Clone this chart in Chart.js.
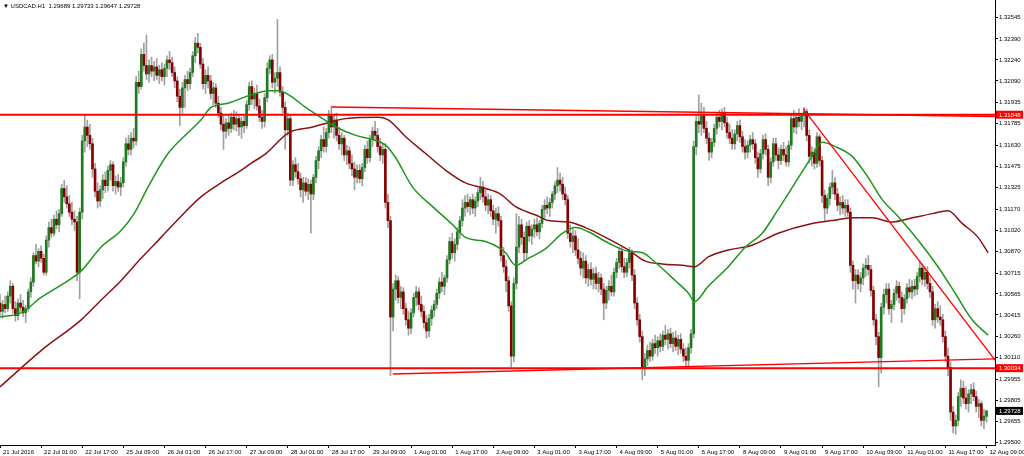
<!DOCTYPE html>
<html lang="en">
<head>
<meta charset="UTF-8">
<title>USDCAD.H1</title>
<script src="https://cdn.jsdelivr.net/npm/chart.js"></script>
<style>
  body { margin: 0; background: #ffffff; }
  #wrap { width: 1024px; height: 456px; }
</style>
</head>
<body>
<div id="wrap"><canvas id="chart"></canvas></div>
<script>
// header text and axis labels
const symbolTitle = '\u25BC USDCAD.H1  1.29689 1.29733 1.29647 1.29728';
const timeLabels = ['21 Jul 2016', '22 Jul 01:00', '22 Jul 17:00', '25 Jul 09:00', '26 Jul 01:00', '26 Jul 17:00',
  '27 Jul 09:00', '28 Jul 01:00', '28 Jul 17:00', '29 Jul 09:00', '1 Aug 01:00', '1 Aug 17:00', '2 Aug 09:00',
  '3 Aug 01:00', '3 Aug 17:00', '4 Aug 09:00', '5 Aug 01:00', '5 Aug 17:00', '8 Aug 09:00', '9 Aug 01:00',
  '9 Aug 17:00', '10 Aug 09:00', '11 Aug 01:00', '11 Aug 17:00', '12 Aug 09:00'];
const barsPerLabel = 16;
const priceTicks = [1.29500, 1.29655, 1.29805, 1.29955, 1.30110, 1.30260, 1.30415, 1.30565, 1.30715, 1.30870,
  1.31020, 1.31170, 1.31325, 1.31475, 1.31630, 1.31785, 1.31935, 1.32090, 1.32240, 1.32390, 1.32545];

// hourly candles: [open, high, low, close]
const ohlc = [
  // 21 Jul 09:00
  [1.3050,1.3056,1.3041,1.3044],[1.3044,1.3052,1.3039,1.3049],[1.3049,1.3055,1.3043,1.3046],[1.3046,1.3058,1.3044,1.3055],
  [1.3055,1.3066,1.3050,1.3062],[1.3062,1.3064,1.3043,1.3046],[1.3046,1.3051,1.3037,1.3041],[1.3041,1.3053,1.3038,1.3050],
  [1.3050,1.3056,1.3044,1.3047],[1.3047,1.3052,1.3040,1.3043],[1.3043,1.3048,1.3036,1.3046],[1.3046,1.3060,1.3044,1.3058],
  [1.3058,1.3068,1.3054,1.3065],[1.3065,1.3086,1.3062,1.3084],[1.3084,1.3092,1.3078,1.3080],[1.3080,1.3089,1.3076,1.3087],
  // 22 Jul 01:00
  [1.3087,1.3091,1.3079,1.3082],[1.3082,1.3085,1.3070,1.3072],[1.3072,1.3098,1.3070,1.3095],[1.3095,1.3108,1.3090,1.3104],
  [1.3104,1.3110,1.3097,1.3100],[1.3100,1.3113,1.3098,1.3110],[1.3110,1.3116,1.3103,1.3106],[1.3106,1.3117,1.3101,1.3114],
  [1.3114,1.3135,1.3112,1.3132],[1.3132,1.3138,1.3122,1.3126],[1.3126,1.3134,1.3118,1.3121],[1.3121,1.3127,1.3112,1.3115],
  [1.3115,1.3122,1.3106,1.3110],[1.3110,1.3116,1.3102,1.3108],[1.3108,1.3112,1.3066,1.3072],[1.3072,1.3118,1.3053,1.3115],
  // 22 Jul 17:00
  [1.3115,1.3170,1.3110,1.3166],[1.3166,1.3185,1.3158,1.3176],[1.3176,1.3181,1.3162,1.3170],[1.3170,1.3178,1.3160,1.3164],
  [1.3164,1.3168,1.3140,1.3146],[1.3146,1.3150,1.3126,1.3130],[1.3130,1.3136,1.3118,1.3123],[1.3123,1.3134,1.3119,1.3131],
  [1.3131,1.3142,1.3125,1.3138],[1.3138,1.3144,1.3129,1.3134],[1.3134,1.3148,1.3130,1.3145],[1.3145,1.3152,1.3138,1.3149],
  [1.3149,1.3151,1.3130,1.3134],[1.3134,1.3141,1.3128,1.3137],[1.3137,1.3142,1.3130,1.3133],[1.3133,1.3140,1.3127,1.3136],
  // 25 Jul 09:00
  [1.3136,1.3154,1.3133,1.3151],[1.3151,1.3168,1.3148,1.3164],[1.3164,1.3170,1.3156,1.3160],[1.3160,1.3172,1.3156,1.3168],
  [1.3168,1.3175,1.3161,1.3166],[1.3166,1.3212,1.3163,1.3208],[1.3208,1.3216,1.3200,1.3205],[1.3205,1.3232,1.3203,1.3228],
  [1.3228,1.3236,1.3216,1.3220],[1.3220,1.3242,1.3210,1.3214],[1.3214,1.3224,1.3208,1.3220],[1.3220,1.3226,1.3212,1.3216],
  [1.3216,1.3223,1.3209,1.3219],[1.3219,1.3225,1.3210,1.3213],[1.3213,1.3220,1.3207,1.3217],[1.3217,1.3222,1.3209,1.3212],
  // 26 Jul 01:00
  [1.3212,1.3221,1.3206,1.3218],[1.3218,1.3227,1.3212,1.3224],[1.3224,1.3230,1.3217,1.3222],[1.3222,1.3226,1.3212,1.3215],
  [1.3215,1.3219,1.3204,1.3209],[1.3209,1.3212,1.3194,1.3198],[1.3198,1.3203,1.3177,1.3190],[1.3190,1.3208,1.3186,1.3204],
  [1.3204,1.3213,1.3190,1.3210],[1.3210,1.3216,1.3202,1.3207],[1.3207,1.3218,1.3203,1.3215],[1.3215,1.3230,1.3212,1.3227],
  [1.3227,1.3240,1.3222,1.3236],[1.3236,1.3243,1.3229,1.3233],[1.3233,1.3236,1.3218,1.3221],[1.3221,1.3225,1.3203,1.3207],
  // 26 Jul 17:00
  [1.3207,1.3217,1.3200,1.3213],[1.3213,1.3219,1.3204,1.3209],[1.3209,1.3213,1.3196,1.3200],[1.3200,1.3208,1.3192,1.3204],
  [1.3204,1.3207,1.3190,1.3193],[1.3193,1.3198,1.3183,1.3186],[1.3186,1.3190,1.3174,1.3178],[1.3178,1.3184,1.3160,1.3173],
  [1.3173,1.3182,1.3168,1.3179],[1.3179,1.3185,1.3170,1.3175],[1.3175,1.3186,1.3172,1.3183],[1.3183,1.3188,1.3174,1.3178],
  [1.3178,1.3187,1.3173,1.3182],[1.3182,1.3185,1.3170,1.3176],[1.3176,1.3183,1.3168,1.3180],[1.3180,1.3184,1.3172,1.3177],
  // 27 Jul 09:00
  [1.3177,1.3195,1.3175,1.3192],[1.3192,1.3208,1.3188,1.3205],[1.3205,1.3209,1.3192,1.3196],[1.3196,1.3204,1.3189,1.3200],
  [1.3200,1.3206,1.3188,1.3191],[1.3191,1.3196,1.3180,1.3183],[1.3183,1.3188,1.3175,1.3180],[1.3180,1.3200,1.3176,1.3197],
  [1.3197,1.3222,1.3194,1.3218],[1.3218,1.3227,1.3214,1.3224],[1.3224,1.3228,1.3204,1.3208],[1.3208,1.3215,1.3200,1.3211],
  [1.3211,1.3253,1.3205,1.3215],[1.3215,1.3219,1.3198,1.3201],[1.3201,1.3205,1.3186,1.3190],[1.3190,1.3194,1.3160,1.3174],
  // 28 Jul 01:00
  [1.3174,1.3186,1.3170,1.3182],[1.3182,1.3185,1.3134,1.3138],[1.3138,1.3152,1.3134,1.3149],[1.3149,1.3154,1.3140,1.3144],
  [1.3144,1.3150,1.3135,1.3139],[1.3139,1.3143,1.3126,1.3131],[1.3131,1.3140,1.3122,1.3136],[1.3136,1.3140,1.3127,1.3130],
  [1.3130,1.3139,1.3124,1.3135],[1.3135,1.3138,1.3100,1.3128],[1.3128,1.3142,1.3124,1.3140],[1.3140,1.3155,1.3136,1.3152],
  [1.3152,1.3162,1.3146,1.3159],[1.3159,1.3170,1.3154,1.3167],[1.3167,1.3176,1.3158,1.3162],[1.3162,1.3175,1.3158,1.3172],
  // 28 Jul 17:00
  [1.3172,1.3188,1.3168,1.3184],[1.3184,1.3191,1.3172,1.3176],[1.3176,1.3185,1.3168,1.3181],[1.3181,1.3186,1.3166,1.3170],
  [1.3170,1.3176,1.3160,1.3164],[1.3164,1.3172,1.3156,1.3168],[1.3168,1.3170,1.3152,1.3156],[1.3156,1.3163,1.3149,1.3159],
  [1.3159,1.3162,1.3146,1.3150],[1.3150,1.3156,1.3141,1.3146],[1.3146,1.3151,1.3131,1.3140],[1.3140,1.3149,1.3136,1.3145],
  [1.3145,1.3149,1.3136,1.3139],[1.3139,1.3150,1.3134,1.3147],[1.3147,1.3163,1.3144,1.3160],[1.3160,1.3166,1.3150,1.3154],
  // 29 Jul 09:00
  [1.3154,1.3170,1.3151,1.3167],[1.3167,1.3176,1.3162,1.3173],[1.3173,1.3180,1.3166,1.3170],[1.3170,1.3175,1.3158,1.3162],
  [1.3162,1.3168,1.3152,1.3156],[1.3156,1.3164,1.3150,1.3160],[1.3160,1.3164,1.3118,1.3122],[1.3122,1.3128,1.3104,1.3109],
  [1.3109,1.3112,1.2998,1.3040],[1.3040,1.3064,1.3030,1.3060],[1.3060,1.3070,1.3052,1.3066],[1.3066,1.3069,1.3050,1.3054],
  [1.3054,1.3062,1.3046,1.3058],[1.3058,1.3061,1.3042,1.3046],[1.3046,1.3050,1.3034,1.3038],[1.3038,1.3044,1.3027,1.3032],
  // 1 Aug 01:00
  [1.3032,1.3046,1.3028,1.3043],[1.3043,1.3057,1.3040,1.3054],[1.3054,1.3062,1.3048,1.3058],[1.3058,1.3061,1.3045,1.3049],
  [1.3049,1.3055,1.3040,1.3044],[1.3044,1.3048,1.3032,1.3036],[1.3036,1.3041,1.3025,1.3030],[1.3030,1.3042,1.3026,1.3039],
  [1.3039,1.3048,1.3034,1.3045],[1.3045,1.3052,1.3040,1.3049],[1.3049,1.3060,1.3046,1.3057],[1.3057,1.3068,1.3053,1.3065],
  [1.3065,1.3072,1.3058,1.3062],[1.3062,1.3070,1.3056,1.3068],[1.3068,1.3084,1.3065,1.3081],[1.3081,1.3097,1.3078,1.3094],
  // 1 Aug 17:00
  [1.3094,1.3100,1.3082,1.3086],[1.3086,1.3096,1.3080,1.3092],[1.3092,1.3104,1.3088,1.3101],[1.3101,1.3112,1.3096,1.3109],
  [1.3109,1.3124,1.3105,1.3118],[1.3118,1.3127,1.3112,1.3122],[1.3122,1.3128,1.3115,1.3119],[1.3119,1.3126,1.3113,1.3124],
  [1.3124,1.3128,1.3114,1.3118],[1.3118,1.3126,1.3112,1.3123],[1.3123,1.3132,1.3119,1.3129],[1.3129,1.3140,1.3124,1.3133],
  [1.3133,1.3137,1.3122,1.3126],[1.3126,1.3131,1.3116,1.3120],[1.3120,1.3128,1.3114,1.3124],[1.3124,1.3127,1.3112,1.3116],
  // 2 Aug 09:00
  [1.3116,1.3120,1.3106,1.3110],[1.3110,1.3118,1.3100,1.3114],[1.3114,1.3119,1.3105,1.3109],[1.3109,1.3112,1.3080,1.3084],
  [1.3084,1.3090,1.3072,1.3076],[1.3076,1.3081,1.3058,1.3066],[1.3066,1.3069,1.3044,1.3048],[1.3048,1.3051,1.3004,1.3012],
  [1.3012,1.3068,1.3008,1.3064],[1.3064,1.3114,1.3060,1.3090],[1.3090,1.3112,1.3086,1.3106],[1.3106,1.3110,1.3092,1.3097],
  [1.3097,1.3101,1.3080,1.3086],[1.3086,1.3108,1.3082,1.3105],[1.3105,1.3109,1.3094,1.3098],[1.3098,1.3106,1.3092,1.3103],
  // 3 Aug 01:00
  [1.3103,1.3110,1.3097,1.3106],[1.3106,1.3111,1.3098,1.3101],[1.3101,1.3109,1.3096,1.3107],[1.3107,1.3120,1.3104,1.3117],
  [1.3117,1.3124,1.3111,1.3120],[1.3120,1.3126,1.3114,1.3118],[1.3118,1.3125,1.3112,1.3122],[1.3122,1.3130,1.3118,1.3128],
  [1.3128,1.3137,1.3124,1.3134],[1.3134,1.3147,1.3129,1.3138],[1.3138,1.3143,1.3130,1.3135],[1.3135,1.3140,1.3124,1.3128],
  [1.3128,1.3133,1.3120,1.3124],[1.3124,1.3127,1.3096,1.3100],[1.3100,1.3106,1.3090,1.3094],[1.3094,1.3103,1.3086,1.3098],
  // 3 Aug 17:00
  [1.3098,1.3102,1.3084,1.3088],[1.3088,1.3096,1.3078,1.3082],[1.3082,1.3087,1.3070,1.3075],[1.3075,1.3086,1.3068,1.3080],
  [1.3080,1.3084,1.3064,1.3068],[1.3068,1.3078,1.3062,1.3074],[1.3074,1.3079,1.3063,1.3067],[1.3067,1.3075,1.3060,1.3071],
  [1.3071,1.3076,1.3060,1.3064],[1.3064,1.3072,1.3058,1.3068],[1.3068,1.3071,1.3056,1.3060],[1.3060,1.3064,1.3038,1.3050],
  [1.3050,1.3062,1.3046,1.3059],[1.3059,1.3066,1.3052,1.3062],[1.3062,1.3070,1.3055,1.3058],[1.3058,1.3075,1.3055,1.3072],
  // 4 Aug 09:00
  [1.3072,1.3082,1.3068,1.3079],[1.3079,1.3090,1.3075,1.3087],[1.3087,1.3090,1.3072,1.3076],[1.3076,1.3082,1.3068,1.3072],
  [1.3072,1.3082,1.3069,1.3079],[1.3079,1.3090,1.3075,1.3086],[1.3086,1.3088,1.3066,1.3070],[1.3070,1.3074,1.3046,1.3050],
  [1.3050,1.3054,1.3034,1.3038],[1.3038,1.3042,1.3022,1.3026],[1.3026,1.3030,1.2995,1.3004],[1.3004,1.3014,1.2998,1.3010],
  [1.3010,1.3020,1.3005,1.3016],[1.3016,1.3022,1.3008,1.3012],[1.3012,1.3024,1.3009,1.3021],[1.3021,1.3027,1.3014,1.3018],
  // 5 Aug 01:00
  [1.3018,1.3026,1.3012,1.3023],[1.3023,1.3028,1.3015,1.3019],[1.3019,1.3030,1.3016,1.3027],[1.3027,1.3034,1.3020,1.3024],
  [1.3024,1.3031,1.3017,1.3028],[1.3028,1.3032,1.3018,1.3021],[1.3021,1.3029,1.3015,1.3025],[1.3025,1.3030,1.3016,1.3019],
  [1.3019,1.3027,1.3013,1.3024],[1.3024,1.3028,1.3014,1.3017],[1.3017,1.3021,1.3008,1.3012],[1.3012,1.3018,1.3004,1.3009],
  [1.3009,1.3021,1.3005,1.3018],[1.3018,1.3031,1.3014,1.3028],[1.3028,1.3166,1.3025,1.3162],[1.3162,1.3185,1.3156,1.3180],
  // 5 Aug 17:00
  [1.3180,1.3199,1.3172,1.3178],[1.3178,1.3193,1.3170,1.3184],[1.3184,1.3190,1.3172,1.3175],[1.3175,1.3180,1.3164,1.3168],
  [1.3168,1.3172,1.3152,1.3158],[1.3158,1.3168,1.3154,1.3165],[1.3165,1.3178,1.3162,1.3175],[1.3175,1.3186,1.3171,1.3183],
  [1.3183,1.3188,1.3176,1.3180],[1.3180,1.3189,1.3174,1.3186],[1.3186,1.3190,1.3176,1.3179],[1.3179,1.3183,1.3168,1.3172],
  [1.3172,1.3178,1.3164,1.3168],[1.3168,1.3174,1.3160,1.3164],[1.3164,1.3174,1.3160,1.3171],[1.3171,1.3180,1.3166,1.3177],
  // 8 Aug 09:00
  [1.3177,1.3181,1.3165,1.3169],[1.3169,1.3173,1.3158,1.3162],[1.3162,1.3167,1.3153,1.3158],[1.3158,1.3166,1.3154,1.3163],
  [1.3163,1.3170,1.3158,1.3167],[1.3167,1.3172,1.3160,1.3164],[1.3164,1.3167,1.3150,1.3154],[1.3154,1.3158,1.3140,1.3146],
  [1.3146,1.3160,1.3143,1.3157],[1.3157,1.3170,1.3153,1.3167],[1.3167,1.3171,1.3156,1.3160],[1.3160,1.3163,1.3134,1.3140],
  [1.3140,1.3154,1.3136,1.3151],[1.3151,1.3168,1.3148,1.3164],[1.3164,1.3168,1.3152,1.3156],[1.3156,1.3161,1.3146,1.3152],
  // 9 Aug 01:00
  [1.3152,1.3163,1.3149,1.3160],[1.3160,1.3165,1.3152,1.3156],[1.3156,1.3162,1.3148,1.3151],[1.3151,1.3166,1.3148,1.3163],
  [1.3163,1.3185,1.3160,1.3182],[1.3182,1.3188,1.3172,1.3176],[1.3176,1.3186,1.3171,1.3183],[1.3183,1.3189,1.3176,1.3180],
  [1.3180,1.3186,1.3174,1.3184],[1.3184,1.3190,1.3176,1.3187],[1.3187,1.3189,1.3166,1.3170],[1.3170,1.3174,1.3150,1.3155],
  [1.3155,1.3162,1.3148,1.3158],[1.3158,1.3161,1.3146,1.3150],[1.3150,1.3172,1.3147,1.3169],[1.3169,1.3171,1.3148,1.3152],
  // 9 Aug 17:00
  [1.3152,1.3155,1.3122,1.3127],[1.3127,1.3131,1.3109,1.3118],[1.3118,1.3128,1.3114,1.3125],[1.3125,1.3136,1.3120,1.3133],
  [1.3133,1.3145,1.3128,1.3136],[1.3136,1.3140,1.3124,1.3128],[1.3128,1.3132,1.3116,1.3120],[1.3120,1.3126,1.3113,1.3122],
  [1.3122,1.3127,1.3114,1.3118],[1.3118,1.3124,1.3112,1.3120],[1.3120,1.3124,1.3112,1.3115],[1.3115,1.3118,1.3072,1.3077],
  [1.3077,1.3080,1.3060,1.3066],[1.3066,1.3074,1.3050,1.3070],[1.3070,1.3074,1.3060,1.3064],[1.3064,1.3072,1.3058,1.3068],
  // 10 Aug 09:00
  [1.3068,1.3078,1.3063,1.3075],[1.3075,1.3082,1.3069,1.3077],[1.3077,1.3084,1.3070,1.3074],[1.3074,1.3077,1.3055,1.3059],
  [1.3059,1.3062,1.3034,1.3038],[1.3038,1.3042,1.3020,1.3026],[1.3026,1.3029,1.2990,1.3011],[1.3011,1.3050,1.3000,1.3047],
  [1.3047,1.3060,1.3042,1.3056],[1.3056,1.3064,1.3050,1.3060],[1.3060,1.3064,1.3042,1.3046],[1.3046,1.3052,1.3036,1.3049],
  [1.3049,1.3060,1.3045,1.3057],[1.3057,1.3066,1.3052,1.3062],[1.3062,1.3065,1.3050,1.3054],[1.3054,1.3058,1.3036,1.3046],
  // 11 Aug 01:00
  [1.3046,1.3056,1.3042,1.3053],[1.3053,1.3064,1.3050,1.3061],[1.3061,1.3067,1.3054,1.3058],[1.3058,1.3066,1.3053,1.3062],
  [1.3062,1.3067,1.3055,1.3060],[1.3060,1.3072,1.3056,1.3069],[1.3069,1.3080,1.3065,1.3075],[1.3075,1.3078,1.3063,1.3067],
  [1.3067,1.3076,1.3062,1.3072],[1.3072,1.3076,1.3060,1.3064],[1.3064,1.3068,1.3054,1.3058],[1.3058,1.3062,1.3034,1.3038],
  [1.3038,1.3049,1.3032,1.3046],[1.3046,1.3051,1.3036,1.3040],[1.3040,1.3048,1.3034,1.3038],[1.3038,1.3042,1.3022,1.3026],
  // 11 Aug 17:00
  [1.3026,1.3030,1.3008,1.3012],[1.3012,1.3018,1.2998,1.3004],[1.3004,1.3008,1.2966,1.2972],[1.2972,1.2976,1.2957,1.2962],
  [1.2962,1.2970,1.2956,1.2966],[1.2966,1.2986,1.2962,1.2983],[1.2983,1.2995,1.2976,1.2989],[1.2989,1.2994,1.2978,1.2982],
  [1.2982,1.2990,1.2974,1.2978],[1.2978,1.2988,1.2972,1.2985],[1.2985,1.2992,1.2978,1.2988],[1.2988,1.2993,1.2980,1.2983],
  [1.2983,1.2987,1.2972,1.2976],[1.2976,1.2981,1.2968,1.2978],[1.2978,1.2980,1.2962,1.2966],[1.2966,1.2974,1.2960,1.2969],
  // 12 Aug 09:00
  [1.29689,1.29733,1.29647,1.29728]
];

// moving averages: [bar index, price]
const maFast = [[0,1.3040],[8.2,1.3043],[16,1.3054],[26.5,1.3066],[31.6,1.3073],[39.3,1.3090],[47.1,1.3102],
  [52.2,1.3114],[57.6,1.3133],[65.4,1.3157],[73.2,1.3172],[78.2,1.3181],[82.1,1.3190],[88.7,1.3193],[97.7,1.3199],
  [104.7,1.3202],[108.5,1.3202],[112.4,1.3199],[119,1.3190],[125.6,1.3182],[130.7,1.3176],[138.5,1.3170],
  [145.1,1.3167],[150.1,1.3163],[154,1.3154],[160.6,1.3133],[168.4,1.3119],[176.2,1.3106],[181.2,1.3097],
  [189,1.3094],[194.8,1.3089],[196.8,1.3086],[200.7,1.3077],[205.7,1.3082],[212.4,1.3089],[219,1.3100],
  [224,1.3104],[229,1.3101],[236.8,1.3093],[244.6,1.3087],[250.1,1.3086],[255.1,1.3079],[262.9,1.3066],
  [268,1.3057],[270.3,1.3051],[275.7,1.3062],[283.5,1.3076],[290.1,1.3090],[296.7,1.3100],[302.9,1.3117],
  [309.5,1.3136],[316.1,1.3155],[320,1.3165],[325.1,1.3162],[331.7,1.3155],[337.9,1.3140],[343.4,1.3124],
  [349.6,1.3112],[357.4,1.3095],[365.1,1.3076],[371.8,1.3057],[378.4,1.3038],[384.6,1.3027]];
const maSlow = [[0,1.2990],[16,1.3016],[31.6,1.3038],[39.3,1.3052],[47.1,1.3066],[54.9,1.3082],[62.7,1.3097],
  [70.4,1.3112],[78.2,1.3126],[86,1.3136],[93.8,1.3145],[97.7,1.3150],[103.5,1.3157],[112.4,1.3172],
  [121.8,1.3176],[129.5,1.3180],[134.6,1.3182],[147.4,1.3183],[151.3,1.3181],[157.9,1.3169],[165.7,1.3157],
  [173.5,1.3145],[181.2,1.3136],[189,1.3132],[194.8,1.3128],[200.7,1.3119],[208.5,1.3113],[213.5,1.3109],
  [221.3,1.3108],[227.9,1.3104],[235.7,1.3097],[244.6,1.3088],[251.2,1.3080],[257.8,1.3078],[265.6,1.3077],
  [270.3,1.3076],[275.7,1.3083],[283.5,1.3088],[292.1,1.3091],[302.9,1.3100],[316.1,1.3107],[323.9,1.3109],
  [331.7,1.3111],[339.5,1.3111],[347.3,1.3108],[355.1,1.3111],[362.9,1.3114],[369,1.3116],[374.5,1.3107],
  [380.7,1.3097],[384.6,1.3086]];

// drawn objects
const xEnd = 387.3;
const levels = [1.31848, 1.30034];
const trendLines = [
  [[129.1, 1.31903], [xEnd, 1.31835]],
  [[312.7, 1.31889], [xEnd, 1.30091]],
  [[152.9, 1.29992], [xEnd, 1.30100]]
];
const priceTags = [[1.31848, '#ff0000'], [1.30034, '#ff0000'], [1.29728, '#000000']];

const bullColor = '#1f7a1f';
const bearColor = '#870000';
const wickColor = '#a0a0a0';
const font = { family: '"Liberation Sans", Arial, sans-serif', size: 6 };

const bodyColors = ohlc.map(b => b[3] >= b[0] ? bullColor : bearColor);

const datasets = [];
trendLines.forEach(seg => {
  datasets.push({
    type: 'line', order: 1, data: seg.map(p => ({ x: p[0], y: p[1] })),
    borderColor: '#ff0000', borderWidth: 1.3, pointRadius: 0
  });
});
levels.forEach(lv => {
  datasets.push({
    type: 'line', order: 1, data: [{ x: 0, y: lv }, { x: xEnd, y: lv }],
    borderColor: '#ff0000', borderWidth: 2, pointRadius: 0
  });
});
datasets.push({
  type: 'line', order: 2, data: maFast.map(p => ({ x: p[0], y: p[1] })),
  borderColor: '#1e961e', borderWidth: 1.5, pointRadius: 0, cubicInterpolationMode: 'monotone'
});
datasets.push({
  type: 'line', order: 2, data: maSlow.map(p => ({ x: p[0], y: p[1] })),
  borderColor: '#8b1212', borderWidth: 1.5, pointRadius: 0, cubicInterpolationMode: 'monotone'
});
datasets.push({
  type: 'bar', order: 4, data: ohlc.map((b, i) => ({ x: i, y: [b[0], b[3]] })),
  backgroundColor: bodyColors, barThickness: 2, grouped: false, borderWidth: 0, minBarLength: 1
});
datasets.push({
  type: 'bar', order: 5, data: ohlc.map((b, i) => ({ x: i, y: [b[2], b[1]] })),
  backgroundColor: wickColor, barThickness: 1, grouped: false, borderWidth: 0, minBarLength: 1
});

const overlay = {
  id: 'overlay',
  afterDraw(chart) {
    const { ctx, chartArea, scales } = chart;
    ctx.save();
    ctx.font = '6px "Liberation Sans", Arial, sans-serif';
    ctx.textBaseline = 'middle';
    ctx.textAlign = 'left';
    priceTags.forEach(([price, bg]) => {
      const py = scales.y.getPixelForValue(price);
      ctx.fillStyle = bg;
      ctx.fillRect(chartArea.right + 1, py - 4, 27, 8);
      ctx.fillStyle = '#ffffff';
      ctx.fillText(price.toFixed(5), chartArea.right + 4, py + 0.5);
    });
    ctx.fillStyle = '#000000';
    ctx.fillText(symbolTitle, 3, 6);
    ctx.restore();
  }
};

new Chart(document.getElementById('chart'), {
  type: 'bar',
  data: { datasets },
  plugins: [overlay],
  options: {
    responsive: true,
    maintainAspectRatio: false,
    animation: false,
    layout: { padding: 0 },
    plugins: { legend: { display: false }, tooltip: { enabled: false } },
    scales: {
      x: {
        type: 'linear', min: 0, max: xEnd, offset: false,
        afterBuildTicks: s => { s.ticks = timeLabels.map((_, k) => ({ value: k * barsPerLabel })); },
        afterFit: s => { s.height = 11; s.paddingLeft = 0; s.paddingRight = 0; },
        ticks: { callback: (v, k) => timeLabels[k], align: 'start', labelOffset: 3, autoSkip: false, maxRotation: 0, font, color: '#000', padding: 1 },
        grid: { offset: false, drawOnChartArea: false, tickLength: 3, color: '#000' },
        border: { color: '#000' }
      },
      y: {
        type: 'linear', position: 'right', min: 1.29484, max: 1.32669,
        afterBuildTicks: s => { s.ticks = priceTicks.map(v => ({ value: v })); },
        afterFit: s => { s.width = 29; s.paddingTop = 0; s.paddingBottom = 0; },
        ticks: { callback: v => v.toFixed(5), font, color: '#000', padding: 1 },
        grid: { drawOnChartArea: false, tickLength: 3, color: '#000' },
        border: { color: '#000' }
      }
    }
  }
});
</script>
</body>
</html>
